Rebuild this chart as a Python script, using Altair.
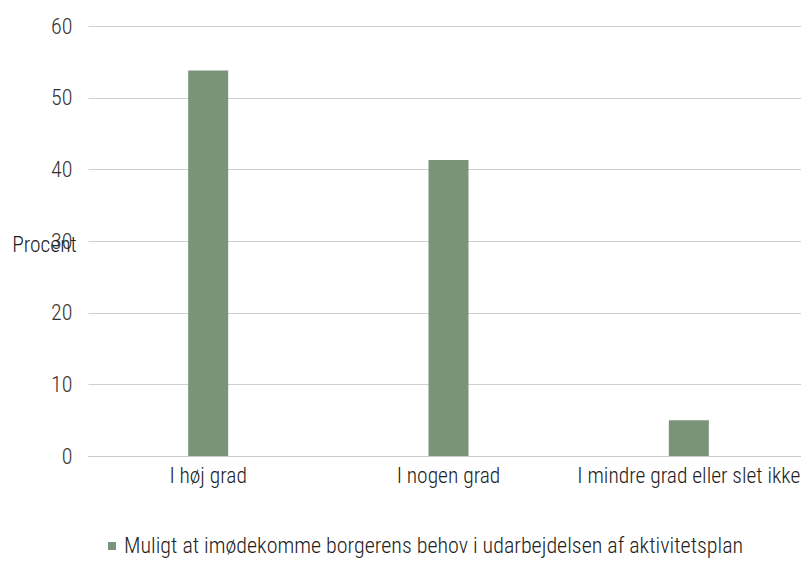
import altair as alt
import pandas as pd

categories = ["I høj grad", "I nogen grad", "I mindre grad eller slet ikke"]
values = [53.8, 41.3, 5.0]
series = "Muligt at imødekomme borgerens behov i udarbejdelsen af aktivitetsplan"

df = pd.DataFrame({"kategori": categories, "procent": values, "serie": [series] * 3})

FONT = "Liberation Sans Narrow, Roboto Condensed, Roboto, sans-serif"

chart = alt.Chart(df).mark_bar(size=40, color="#7a9479").encode(
    x=alt.X("kategori:N", sort=categories, title=None,
            scale=alt.Scale(paddingInner=0, paddingOuter=0, range=[0, 721]),
            axis=alt.Axis(labelAngle=0, ticks=False, domainColor="#c8c8c8",
                          labelFont=FONT, labelFontSize=21.5, labelColor="#222222",
                          labelPadding=9, labelLimit=400, labelFontWeight=300)),
    y=alt.Y("procent:Q", title="Procent",
            scale=alt.Scale(domain=[0, 60]),
            axis=alt.Axis(values=[0, 10, 20, 30, 40, 50, 60], domain=False, ticks=False,
                          gridColor="#cfcfcf", labelFont=FONT, labelFontSize=22,
                          labelColor="#333333", labelPadding=16, labelFontWeight=300,
                          titleAngle=0, titleFont=FONT, titleFontSize=21.5,
                          titleFontWeight=300, titleColor="#222222",
                          titleAlign="center", titleBaseline="middle",
                          titleX=-44, titleY=219)),
    color=alt.Color("serie:N", scale=alt.Scale(range=["#7a9479"]),
                    legend=alt.Legend(title=None, orient="none", legendX=13, legendY=509,
                                      symbolType="square", symbolSize=64,
                                      labelFont=FONT, labelFontSize=22, labelColor="#222222",
                                      labelFontWeight=300,
                                      labelLimit=800, symbolOffset=0, labelOffset=1)),
).properties(
    width=713, height=430,
    autosize="none",
    padding={"left": 80, "top": 18, "right": 0, "bottom": 103},
).configure_view(stroke=None)

chart.save("out.html", embed_options={"renderer": "svg", "actions": False})
